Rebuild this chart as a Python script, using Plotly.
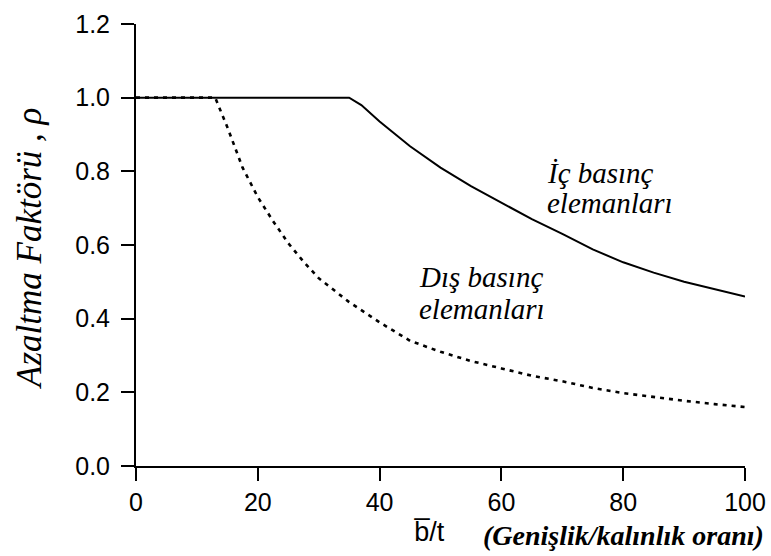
import plotly.graph_objects as go

# Data
inner_x = [0, 35, 37, 40, 45, 50, 55, 60, 65, 70, 75, 80, 85, 90, 95, 100]
inner_rho = [1.0, 1.0, 0.98, 0.935, 0.868, 0.81, 0.76, 0.715, 0.67, 0.63, 0.588, 0.553, 0.525, 0.50, 0.48, 0.46]

outer_x = [0, 13, 15, 17.5, 20, 22.5, 25, 27.5, 30, 35, 40, 45, 50, 55, 60, 65, 70, 75, 80, 85, 90, 95, 100]
outer_rho = [1.0, 1.0, 0.92, 0.81, 0.73, 0.665, 0.605, 0.555, 0.51, 0.445, 0.39, 0.34, 0.31, 0.285, 0.265,
             0.245, 0.23, 0.212, 0.198, 0.187, 0.177, 0.168, 0.16]

x_ticks = [0, 20, 40, 60, 80, 100]
y_ticks = [0.0, 0.2, 0.4, 0.6, 0.8, 1.0, 1.2]

serif = "Liberation Serif, Times New Roman, serif"
sans = "Liberation Sans, Arial, sans-serif"

fig = go.Figure()
fig.add_trace(go.Scatter(x=outer_x, y=outer_rho, mode="lines",
                         line=dict(color="black", width=2.6, dash="4px,5px"), showlegend=False))
fig.add_trace(go.Scatter(x=inner_x, y=inner_rho, mode="lines",
                         line=dict(color="black", width=2), showlegend=False))

axis_common = dict(showline=True, linecolor="black", linewidth=2, ticks="outside", ticklen=13,
                   tickwidth=2, tickcolor="black", showgrid=False, zeroline=False, automargin=False,
                   tickfont=dict(family=sans, size=25, color="black"))

fig.update_xaxes(range=[0, 100], tickvals=x_ticks, **axis_common)
fig.update_yaxes(range=[0, 1.2], tickvals=y_ticks, tickformat=".1f", ticklabelstandoff=6, **axis_common)

ann_font = dict(family=serif, size=29, color="black")
labels = [
    ("<i>İç basınç</i>", 67.2, 0.795),
    ("<i>elemanları</i>", 67.2, 0.715),
    ("<i>Dış basınç</i>", 46.1, 0.513),
    ("<i>elemanları</i>", 46.2, 0.427),
]
for txt, x, y in labels:
    fig.add_annotation(text=txt, x=x, y=y, xref="x", yref="y", xanchor="left", yanchor="middle",
                       showarrow=False, font=ann_font)

fig.add_annotation(text="<i>Azaltma Faktörü , ρ</i>", xref="paper", yref="paper", x=-0.176, y=0.493,
                   textangle=-90, showarrow=False, xanchor="center", yanchor="middle",
                   font=dict(family=serif, size=35, color="black"))
fig.add_annotation(text="b\u0305/t", xref="paper", yref="paper", x=0.482, y=-0.149,
                   showarrow=False, xanchor="center", yanchor="middle",
                   font=dict(family=sans, size=27, color="black"))
fig.add_annotation(text="<b><i>(Genişlik/kalınlık oranı)</i></b>", xref="paper", yref="paper",
                   x=0.566, y=-0.158, showarrow=False, xanchor="left", yanchor="middle",
                   font=dict(family=serif, size=28, color="black"))

fig.update_layout(width=771, height=556, margin=dict(l=136, r=26, t=24, b=90, autoexpand=False),
                  plot_bgcolor="white", paper_bgcolor="white")

fig.write_html("out.html")
